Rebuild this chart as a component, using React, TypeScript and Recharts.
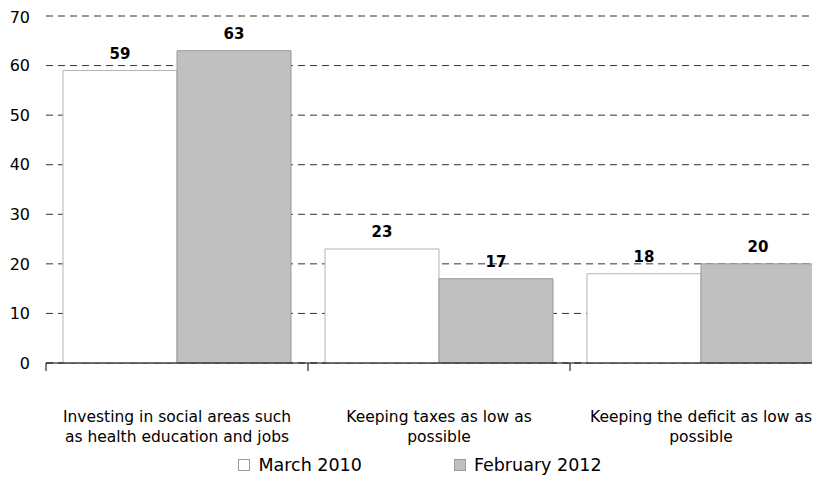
import { Bar, BarChart, CartesianGrid, LabelList, Legend, XAxis, YAxis } from "recharts";

const categories = [
  ["Investing in social areas such", "as health education and jobs"],
  ["Keeping taxes as low as", "possible"],
  ["Keeping the deficit as low as", "possible"],
];
const march2010 = [59, 23, 18];
const february2012 = [63, 17, 20];
const yTicks = [0, 10, 20, 30, 40, 50, 60, 70];

const data = categories.map((lines, i) => ({
  name: lines.join(" "),
  march: march2010[i],
  feb: february2012[i],
}));

const FONT = "'DejaVu Sans', Verdana, sans-serif";
const CHART_W = 840;
const CHART_H = 473;
const Y_W = 38;
const M_RIGHT = 16;
const BAND = (CHART_W - Y_W - M_RIGHT) / categories.length;

function CategoryTick(props: any) {
  const { x, y, index } = props;
  const lines = categories[index] || [];
  return (
    <g>
      <line x1={x - BAND / 2} x2={x - BAND / 2} y1={y - 8} y2={y} stroke="#000" />
      {lines.map((t, i) => (
        <text
          key={i}
          x={x}
          y={y + 51 + i * 20}
          textAnchor="middle"
          fontFamily={FONT}
          fontSize={15.5}
          fill="#000"
        >
          {t}
        </text>
      ))}
    </g>
  );
}

function LegendBox() {
  const items = [
    { label: "March 2010", fill: "#ffffff", stroke: "#9a9a9a" },
    { label: "February 2012", fill: "#c0c0c0", stroke: "#9a9a9a" },
  ];
  return (
    <div style={{ display: "flex", justifyContent: "center", gap: 92, paddingTop: 22, fontFamily: FONT, fontSize: 17.5 }}>
      {items.map((it) => (
        <div key={it.label} style={{ display: "flex", alignItems: "center" }}>
          <span
            style={{
              display: "inline-block",
              width: 10,
              height: 10,
              background: it.fill,
              border: `1px solid ${it.stroke}`,
              marginRight: 8,
            }}
          />
          <span>{it.label}</span>
        </div>
      ))}
    </div>
  );
}

export default function App() {
  return (
    <div style={{ width: 812, height: CHART_H, overflow: "hidden" }}>
      <BarChart
        width={CHART_W}
        height={CHART_H}
        data={data}
        margin={{ top: 8, right: M_RIGHT, bottom: 0, left: 0 }}
        barCategoryGap={17}
        barGap={0}
      >
        <CartesianGrid vertical={false} stroke="#333" strokeDasharray="7 5" />
        <XAxis
          dataKey="name"
          height={70}
          axisLine={{ stroke: "#000" }}
          tickLine={false}
          interval={0}
          tick={<CategoryTick />}
        />
        <YAxis
          width={Y_W}
          domain={[0, 70]}
          ticks={yTicks}
          axisLine={false}
          tickLine={false}
          tickSize={0}
          tickMargin={16}
          tick={{ fill: "#000", fontSize: 16, fontFamily: FONT }}
        />
        <Legend verticalAlign="bottom" height={48} content={<LegendBox />} />
        <Bar dataKey="march" fill="#ffffff" stroke="#b3b3b3" isAnimationActive={false}>
          <LabelList dataKey="march" position="top" offset={12} fill="#000" fontWeight="bold" fontSize={15} fontFamily={FONT} />
        </Bar>
        <Bar dataKey="feb" fill="#c0c0c0" stroke="#999999" isAnimationActive={false}>
          <LabelList dataKey="feb" position="top" offset={12} fill="#000" fontWeight="bold" fontSize={15} fontFamily={FONT} />
        </Bar>
      </BarChart>
    </div>
  );
}
